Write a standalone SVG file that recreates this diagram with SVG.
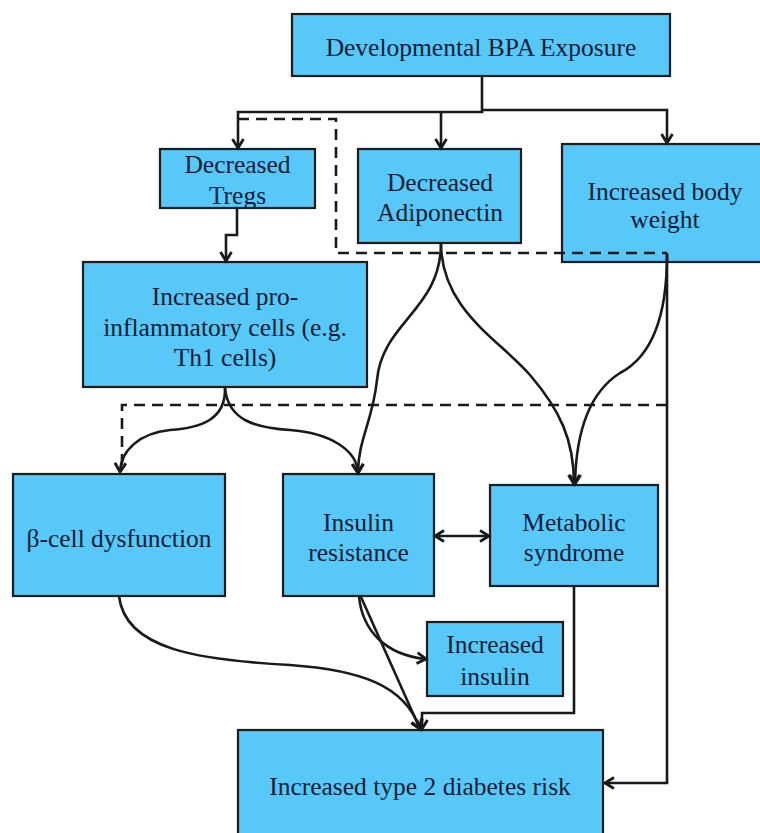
<svg xmlns="http://www.w3.org/2000/svg" width="760" height="833" viewBox="0 0 760 833">
<style>
.box{fill:#57c8f7;stroke:#1c1c1c;stroke-width:2.2}
.lbl{font-family:"Liberation Serif","Times New Roman",serif;font-size:25.5px;fill:#0f1d38;text-anchor:middle}
.c{fill:none;stroke:#1a1a1a;stroke-width:2.6}
.d{fill:none;stroke:#1a1a1a;stroke-width:2.6;stroke-dasharray:11 7}
.a{marker-end:url(#arr)}
</style>
<defs>
<marker id="arr" markerUnits="userSpaceOnUse" markerWidth="16" markerHeight="16" refX="10" refY="7" orient="auto-start-reverse">
<path d="M1,1.5 L10,7 L1,12.5" fill="none" stroke="#1a1a1a" stroke-width="2.8"/>
</marker>
</defs>
<rect width="760" height="833" fill="#ffffff"/>
<g id="bpa"><rect class="box" x="292" y="14" width="378" height="62"/><text class="lbl" x="481" y="56">Developmental BPA Exposure</text></g>
<g id="tregs"><rect class="box" x="160" y="149" width="155" height="59"/><text class="lbl" x="237.5" y="173">Decreased</text><text class="lbl" x="237.5" y="204">Tregs</text></g>
<g id="adiponectin"><rect class="box" x="358" y="149" width="163" height="94"/><text class="lbl" x="440" y="191">Decreased</text><text class="lbl" x="440" y="221">Adiponectin</text></g>
<g id="bodyweight"><rect class="box" x="562" y="144" width="208" height="118"/><text class="lbl" x="665" y="200">Increased body</text><text class="lbl" x="665" y="228">weight</text></g>
<g id="proinflam"><rect class="box" x="83" y="262" width="284" height="125"/><text class="lbl" x="225" y="305">Increased pro-</text><text class="lbl" x="225" y="336">inflammatory cells (e.g.</text><text class="lbl" x="225" y="366">Th1 cells)</text></g>
<g id="betacell"><rect class="box" x="13" y="474" width="212" height="122"/><text class="lbl" x="119" y="547">β-cell dysfunction</text></g>
<g id="insulinres"><rect class="box" x="283" y="474" width="151" height="122"/><text class="lbl" x="358.5" y="531">Insulin</text><text class="lbl" x="358.5" y="561">resistance</text></g>
<g id="metabolic"><rect class="box" x="490" y="485" width="168" height="101"/><text class="lbl" x="574" y="531">Metabolic</text><text class="lbl" x="574" y="561">syndrome</text></g>
<g id="insulin"><rect class="box" x="427" y="622" width="136" height="74"/><text class="lbl" x="495" y="653">Increased</text><text class="lbl" x="495" y="685">insulin</text></g>
<g id="t2d"><rect class="box" x="238" y="730" width="365" height="120"/><text class="lbl" x="420" y="795">Increased type 2 diabetes risk</text></g>
<g id="connectors">
<path class="c a" d="M482,76 V112 H238 V148"/>
<path class="c a" d="M441,112 V148"/>
<path class="c a" d="M482,110 H667 V143"/>
<path class="c a" d="M237,208 V235 H226 V261"/>
<path class="d" d="M238,119 H336 V253 H667"/>
<path class="d" d="M667,405 H122 V466"/>
<path class="c a" d="M225,388 C226,420 200,428 170,430 C140,433 121,450 120,472"/>
<path class="c a" d="M225,388 C228,420 255,428 290,430 C330,433 357,450 358,473"/>
<path class="c a" d="M441,243 C441,310 382,322 377,380 C373,420 358,440 358,473"/>
<path class="c a" d="M441,243 C441,310 500,340 530,375 C560,410 574,440 574,484"/>
<path class="c a" d="M667,255 C667,330 645,360 620,373 C590,392 576,430 575,484"/>
<path class="c a" d="M667,253 V783 H605"/>
<path class="c a" style="marker-start:url(#arr)" d="M435,536 H489"/>
<path class="c a" d="M359,596 C362,630 385,655 426,659"/>
<path class="c a" d="M361,597 L420,729"/>
<path class="c a" d="M119,596 C125,650 200,660 290,665 C360,670 405,685 420,729"/>
<path class="c a" d="M574,586 V713 H422 V729"/>
</g>
</svg>
